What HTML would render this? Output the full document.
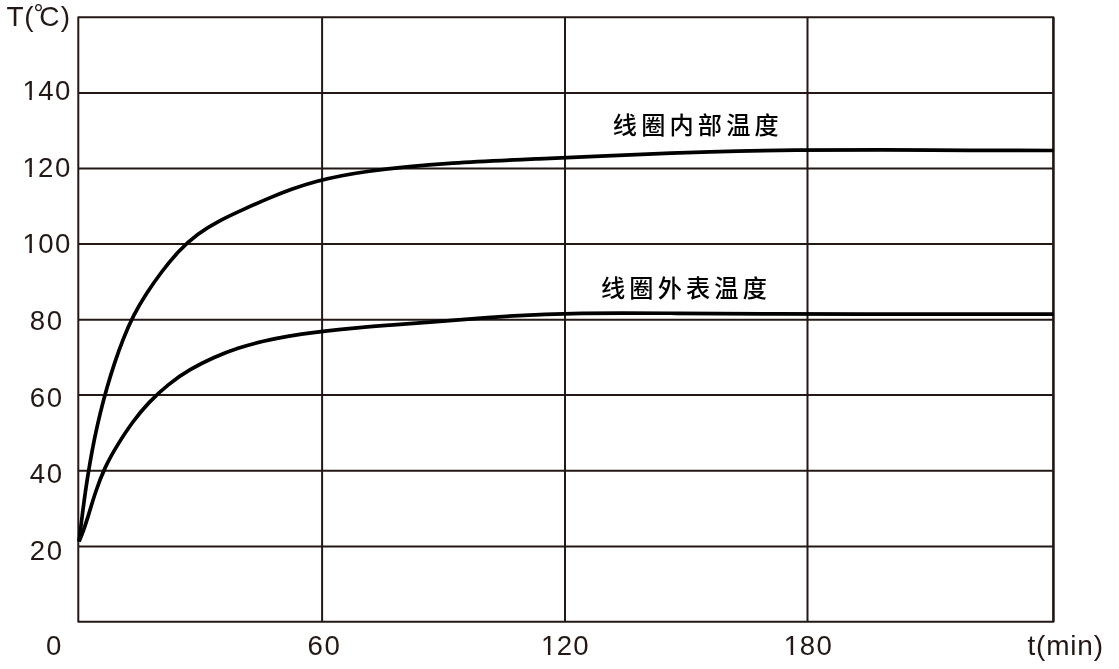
<!DOCTYPE html>
<html lang="zh-CN">
<head>
<meta charset="utf-8">
<title>线圈温度曲线</title>
<style>
html,body{margin:0;padding:0;background:#fff;}
body{width:1119px;height:669px;overflow:hidden;font-family:"Liberation Sans","Noto Sans CJK SC",sans-serif;}
svg{display:block;}
</style>
</head>
<body>
<svg width="1119" height="669" viewBox="0 0 1119 669" font-family='"Liberation Sans", "Noto Sans CJK SC", sans-serif'>
<defs><clipPath id="c1"><path clip-rule="evenodd" d="M0 69.8H1119V109.8H0ZM23.50 97.14H29.34V100.80H23.50ZM31.78 97.14H37.40V100.80H31.78Z"/></clipPath><clipPath id="c2"><path clip-rule="evenodd" d="M0 146.6H1119V186.6H0ZM23.50 173.94H29.34V177.60H23.50ZM31.78 173.94H37.40V177.60H31.78Z"/></clipPath><clipPath id="c3"><path clip-rule="evenodd" d="M0 223.4H1119V263.4H0ZM23.50 250.74H29.34V254.40H23.50ZM31.78 250.74H37.40V254.40H31.78Z"/></clipPath><clipPath id="c4"><path clip-rule="evenodd" d="M0 625.1H1119V665.1H0ZM542.10 652.44H547.94V656.10H542.10ZM550.38 652.44H556.00V656.10H550.38Z"/></clipPath><clipPath id="c5"><path clip-rule="evenodd" d="M0 625.1H1119V665.1H0ZM784.90 652.44H790.74V656.10H784.90ZM793.18 652.44H798.80V656.10H793.18Z"/></clipPath></defs>
<rect width="1119" height="669" fill="#fff"/>
<g stroke="#231815" stroke-width="2" fill="none">
<line x1="322.1" y1="17.3" x2="322.1" y2="621.85"/>
<line x1="565.0" y1="17.3" x2="565.0" y2="621.85"/>
<line x1="807.5" y1="17.3" x2="807.5" y2="621.85"/>
<line x1="78.3" y1="92.95" x2="1053.4" y2="92.95"/>
<line x1="78.3" y1="168.55" x2="1053.4" y2="168.55"/>
<line x1="78.3" y1="243.95" x2="1053.4" y2="243.95"/>
<line x1="78.3" y1="319.70" x2="1053.4" y2="319.70"/>
<line x1="78.3" y1="395.10" x2="1053.4" y2="395.10"/>
<line x1="78.3" y1="470.80" x2="1053.4" y2="470.80"/>
<line x1="78.3" y1="546.40" x2="1053.4" y2="546.40"/>
<rect x="78.3" y="17.3" width="975.10" height="604.55" stroke-width="2" stroke-linejoin="round"/>
<line x1="1053.4" y1="17.3" x2="1053.4" y2="621.85" stroke-width="2.3"/>
</g>
<g stroke="#000" stroke-width="3.7" fill="none" stroke-linejoin="round">
<path d="M79.00 541.50C80.11 532.90 81.15 524.30 82.22 515.70C83.30 507.10 84.42 498.51 85.67 489.93C86.92 481.35 88.27 472.79 89.75 464.25C91.22 455.71 92.81 447.19 94.55 438.70C96.28 430.21 98.17 421.75 100.22 413.33C102.27 404.91 104.48 396.52 106.86 388.19C109.24 379.86 111.78 371.57 114.52 363.35C117.26 355.13 120.19 346.97 123.38 338.91C126.57 330.84 130.04 322.89 133.97 315.17C137.89 307.45 142.34 300.00 147.09 292.75C151.85 285.49 156.84 278.40 162.07 271.50C167.31 264.61 172.80 257.88 178.73 251.54C184.66 245.21 191.07 239.34 198.04 234.21C205.02 229.08 212.49 224.60 220.16 220.56C227.83 216.52 235.71 212.90 243.60 209.33C251.50 205.76 259.40 202.23 267.38 198.85C275.36 195.48 283.42 192.24 291.58 189.29C299.74 186.34 308.00 183.70 316.36 181.46C324.72 179.22 333.18 177.34 341.70 175.71C350.21 174.09 358.78 172.72 367.36 171.49C395.71 167.43 424.23 164.95 452.78 163.08C481.34 161.22 509.94 160.01 538.53 158.78C567.13 157.56 595.71 156.27 624.30 155.06C652.90 153.86 681.49 152.76 710.10 151.89C738.71 151.02 767.32 150.37 795.94 150.04C824.55 149.72 853.17 149.72 881.79 149.84C910.41 149.97 939.03 150.22 967.65 150.39C996.26 150.57 1024.88 150.67 1053.50 150.50"/>
<path d="M79.00 541.50C82.58 533.47 85.34 525.19 87.92 516.83C90.51 508.48 92.95 500.06 95.75 491.76C98.54 483.46 101.64 475.27 105.34 467.36C109.04 459.45 113.38 451.82 117.98 444.36C122.59 436.91 127.38 429.57 132.54 422.52C137.70 415.46 143.28 408.71 149.30 402.36C155.32 396.01 161.77 390.05 168.60 384.57C175.43 379.10 182.66 374.14 190.20 369.72C197.75 365.30 205.59 361.37 213.58 357.78C221.56 354.20 229.71 350.99 238.02 348.26C246.33 345.53 254.79 343.24 263.32 341.27C271.84 339.29 280.43 337.61 289.06 336.15C297.68 334.69 306.34 333.44 315.02 332.32C323.70 331.20 332.40 330.21 341.10 329.29C349.80 328.37 358.51 327.53 367.22 326.79C375.94 326.04 384.67 325.40 393.40 324.80C424.78 322.64 456.12 320.12 487.48 317.64C518.85 315.17 550.27 313.64 581.72 313.30C613.17 312.95 644.62 313.13 676.08 313.28C707.53 313.44 738.98 313.69 770.43 313.84C801.88 313.99 833.33 314.05 864.79 314.06C896.24 314.08 927.69 314.05 959.14 314.05C990.60 314.04 1022.05 314.06 1053.50 314.15"/>
</g>
<g fill="#231815" font-size="27.6">
<text x="22.4 38.15 54.9" y="99.8" clip-path="url(#c1)">140</text>
<text x="22.4 37.95 54.9" y="176.6" clip-path="url(#c2)">120</text>
<text x="22.4 38.3 54.9" y="253.4" clip-path="url(#c3)">100</text>
<text x="29.85 46.8" y="330">80</text>
<text x="29.85 46.8" y="406.8">60</text>
<text x="29.85 46.8" y="483.3">40</text>
<text x="29.85 46.8" y="560.1">20</text>
<text x="45.95" y="655.1">0</text>
<text x="307.55 324.4" y="655.1">60</text>
<text x="541 556.8 573.35" y="655.1" clip-path="url(#c4)">120</text>
<text x="783.8 799.75 816.45" y="655.1" clip-path="url(#c5)">180</text>
<text x="1027.5" y="655" font-size="28" letter-spacing="0.8">t(min)</text>
<text font-size="28"><tspan x="6.5 24.3" y="26">T(</tspan><tspan x="33.6" y="22" font-size="25">°</tspan><tspan x="39.3" y="26.4">C</tspan><tspan x="60.8" y="26">)</tspan></text>
</g>
<g fill="#000" font-size="24.2" font-weight="500" letter-spacing="4.15">
<text x="612.8" y="134.4">线圈内部温度</text>
<text x="601" y="296.9">线圈外表温度</text>
</g>
</svg>
</body>
</html>
